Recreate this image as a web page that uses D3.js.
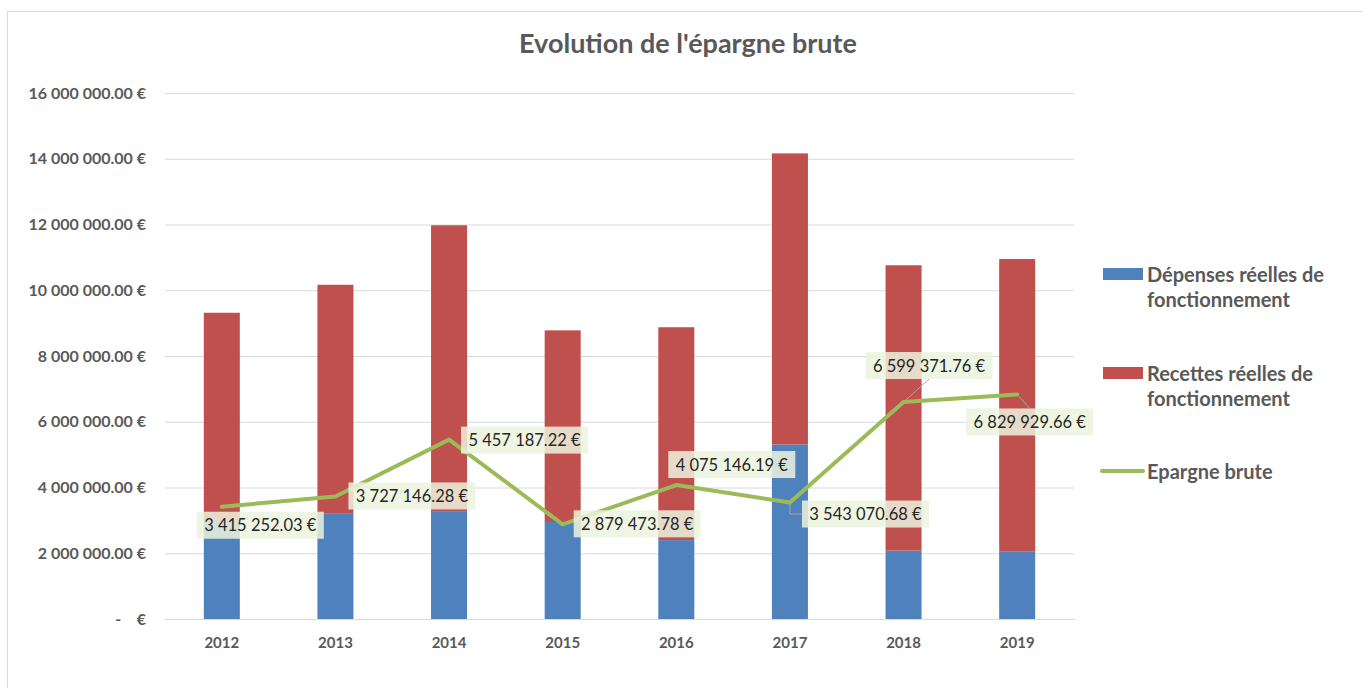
<!DOCTYPE html>
<html>
<head>
<meta charset="utf-8">
<script src="https://cdn.jsdelivr.net/npm/d3@7"></script>
<style>
  html, body { margin: 0; padding: 0; background: #ffffff; }
  svg { display: block; font-family: Lato, "Open Sans", sans-serif; }
  .pre { white-space: pre; }
</style>
</head>
<body>
<svg id="chart" width="1362" height="688"></svg>
<script>
// ---- data ----
const years = ["2012", "2013", "2014", "2015", "2016", "2017", "2018", "2019"];
const depenses = [2950000, 3220000, 3260000, 2950000, 2400000, 5310000, 2080000, 2060000];
const recettes = [6365000, 6947000, 8717000, 5830000, 6475000, 8853000, 8680000, 8890000];
const epargne = [3415252.03, 3727146.28, 5457187.22, 2879473.78, 4075146.19, 3543070.68, 6599371.76, 6829929.66];
const yTicks = [0, 2000000, 4000000, 6000000, 8000000, 10000000, 12000000, 14000000, 16000000];
const title = "Evolution de l'épargne brute";

// ---- layout (label placement relative to each point: box left/top offsets, leader style) ----
const labelOffsets = [[-25, 5], [13, -14], [12, -13], [11, -14], [-8, -34], [12, -2], [-38, -50], [-51, 14]];
const leaderType = [null, null, null, null, null, "elbow", "bottom", "top"];

const colors = { dep: "#4f81bd", rec: "#c0504d", ep: "#9bbb59" };
const textGray = "#595959";

const svg = d3.select("#chart");

// frame
svg.append("rect").attr("x", 7.5).attr("y", 11.5).attr("width", 1400).attr("height", 700)
  .attr("fill", "none").attr("stroke", "#d9d9d9").attr("stroke-width", 1);

const x = d3.scaleBand().domain(years).range([165, 1074]).paddingInner(0.683).paddingOuter(0.3415);
const y = d3.scaleLinear().domain([0, 16000000]).range([619, 93]);

const loc = d3.formatLocale({ decimal: ".", thousands: " ", grouping: [3], currency: ["", " €"] });
const fmt = loc.format(",.2f");
const tickFmt = v => v === 0 ? "-    €" : fmt(v) + " €";

// title
svg.append("text").attr("x", 688).attr("y", 53).attr("text-anchor", "middle")
  .attr("font-size", 27).attr("font-weight", 700).attr("fill", textGray).text(title);

// gridlines + y axis
const yAxis = d3.axisLeft(y).tickValues(yTicks).tickSize(-(1074 - 165)).tickFormat(tickFmt).tickPadding(19);
const gy = svg.append("g").attr("transform", "translate(165,0)").call(yAxis);
gy.select(".domain").remove();
gy.selectAll(".tick line").attr("stroke", "#d9d9d9").attr("stroke-width", 1);
gy.selectAll(".tick text").attr("class", "pre").attr("font-size", 16).attr("font-weight", 700).attr("fill", textGray)
  .attr("font-family", "Lato, sans-serif");

// x axis
const xAxis = d3.axisBottom(x).tickSize(0).tickPadding(18);
const gx = svg.append("g").attr("transform", "translate(0,619)").call(xAxis);
gx.select(".domain").attr("stroke", "#d9d9d9");
gx.selectAll(".tick text").attr("font-size", 15).attr("font-weight", 700).attr("fill", textGray)
  .attr("font-family", "Lato, sans-serif");

// stacked bars
const rows = years.map((yr, i) => ({ year: yr, dep: depenses[i], rec: recettes[i] }));
const stack = d3.stack().keys(["dep", "rec"])(rows);
svg.append("g").selectAll("g").data(stack).join("g")
  .attr("fill", d => colors[d.key])
  .selectAll("rect").data(d => d).join("rect")
  .attr("x", d => x(d.data.year))
  .attr("width", x.bandwidth())
  .attr("y", d => y(d[1]))
  .attr("height", d => y(d[0]) - y(d[1]));

// line
const cx = yr => x(yr) + x.bandwidth() / 2;
const pts = years.map((yr, i) => [cx(yr), y(epargne[i])]);
svg.append("path").attr("d", d3.line()(pts)).attr("fill", "none")
  .attr("stroke", colors.ep).attr("stroke-width", 4).attr("stroke-linejoin", "round").attr("stroke-linecap", "round");

// data labels
const boxW = 127, boxH = 27;
const lg = svg.append("g");
pts.forEach((p, i) => {
  const bx = p[0] + labelOffsets[i][0], by = p[1] + labelOffsets[i][1];
  const t = leaderType[i];
  if (t) {
    let d;
    if (t === "elbow") d = `M${p[0]},${p[1]}V${by + boxH / 2}H${bx}`;
    if (t === "bottom") d = `M${p[0]},${p[1]}L${bx + boxW / 2},${by + boxH}`;
    if (t === "top") d = `M${p[0]},${p[1]}L${bx + boxW / 2},${by}`;
    lg.append("path").attr("d", d).attr("fill", "none").attr("stroke", "#a6a6a6").attr("stroke-width", 1);
  }
  lg.append("rect").attr("x", bx).attr("y", by).attr("width", boxW).attr("height", boxH)
    .attr("fill", "rgb(235,243,222)").attr("fill-opacity", 0.85);
  lg.append("text").attr("x", bx + boxW / 2).attr("y", by + 19.5).attr("text-anchor", "middle")
    .attr("font-size", 16.5).attr("fill", "#262626").text(fmt(epargne[i]) + " €");
});

// legend
const legend = svg.append("g");
const legendItems = [
  { name: ["Dépenses réelles de", "fonctionnement"], color: colors.dep, type: "rect", y: 274 },
  { name: ["Recettes réelles de", "fonctionnement"], color: colors.rec, type: "rect", y: 373 },
  { name: ["Epargne brute"], color: colors.ep, type: "line", y: 471 }
];
legendItems.forEach(it => {
  if (it.type === "rect") {
    legend.append("rect").attr("x", 1103).attr("y", it.y - 6).attr("width", 40).attr("height", 12).attr("fill", it.color);
  } else {
    legend.append("line").attr("x1", 1102).attr("x2", 1143).attr("y1", it.y).attr("y2", it.y)
      .attr("stroke", it.color).attr("stroke-width", 4).attr("stroke-linecap", "round");
  }
  const tx = legend.append("text").attr("x", 1147).attr("y", it.y + 8).attr("font-size", 20)
    .attr("font-weight", 700).attr("fill", textGray);
  it.name.forEach((ln, k) => {
    tx.append("tspan").attr("x", 1147).attr("dy", k === 0 ? 0 : 25).text(ln);
  });
});
</script>
</body>
</html>
